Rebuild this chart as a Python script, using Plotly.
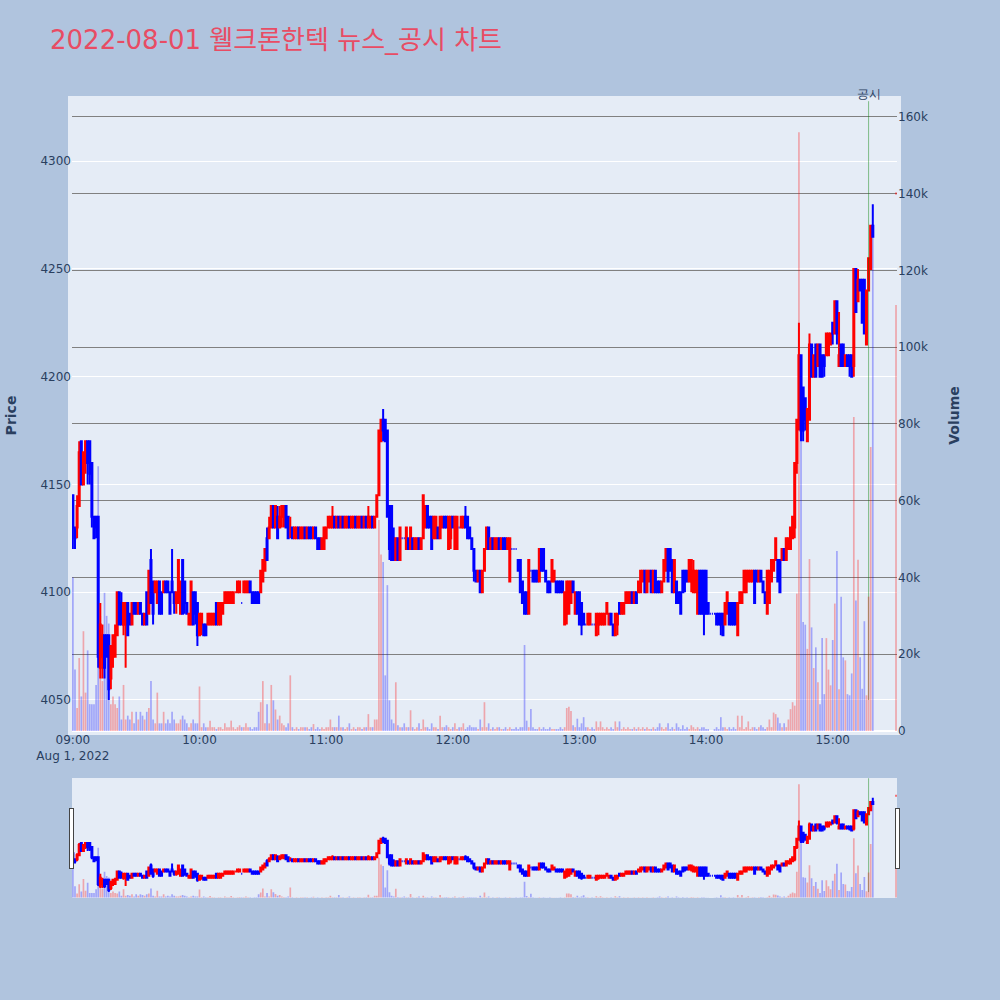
import pandas as pd
import plotly.graph_objects as go
from plotly.subplots import make_subplots

title_text = "2022-08-01 웰크론한텍 뉴스_공시 차트"
news_time = "2022-08-01 15:17:00"
news_label = "공시"

# 1-minute bars 09:00 ~ 15:19, then the 15:30 closing auction
times = list(pd.date_range("2022-08-01 09:00", "2022-08-01 15:19", freq="1min")) + [pd.Timestamp("2022-08-01 15:30")]
x_range = ["2022-08-01 08:59:35", "2022-08-01 15:30:28"]

opens = [
    4145, 4130, 4130, 4140, 4170, 4150, 4160, 4170, 4170, 4160,
    4135, 4135, 4135, 4065, 4070, 4080, 4080, 4080, 4060, 4070,
    4070, 4080, 4100, 4095, 4085, 4085, 4095, 4090, 4085, 4095,
    4095, 4090, 4095, 4090, 4085, 4100, 4090, 4115, 4105, 4100,
    4095, 4105, 4100, 4100, 4105, 4105, 4100, 4105, 4100, 4095,
    4095, 4090, 4115, 4105, 4095, 4085, 4085, 4100, 4100, 4095,
    4080, 4085, 4085, 4085, 4085, 4085, 4085, 4085, 4095, 4085,
    4085, 4090, 4095, 4095, 4095, 4095, 4095, 4100, 4100, 4100,
    4095, 4100, 4100, 4100, 4105, 4100, 4100, 4100, 4100, 4100,
    4105, 4110, 4125, 4125, 4130, 4140, 4130, 4135, 4130, 4135,
    4135, 4140, 4135, 4130, 4130, 4125, 4125, 4130, 4125, 4125,
    4130, 4125, 4130, 4130, 4125, 4130, 4125, 4125, 4120, 4120,
    4125, 4130, 4130, 4130, 4135, 4130, 4135, 4130, 4135, 4130,
    4130, 4135, 4130, 4130, 4135, 4130, 4130, 4135, 4130, 4135,
    4130, 4130, 4135, 4130, 4135, 4145, 4170, 4180, 4180, 4175,
    4140, 4140, 4125, 4115, 4125, 4115, 4125, 4125, 4120, 4125,
    4120, 4125, 4120, 4120, 4125, 4120, 4125, 4130, 4140, 4135,
    4135, 4125, 4125, 4130, 4125, 4130, 4135, 4135, 4120, 4125,
    4135, 4120, 4120, 4130, 4130, 4130, 4135, 4135, 4130, 4125,
    4120, 4110, 4105, 4110, 4100, 4110, 4120, 4130, 4120, 4125,
    4120, 4120, 4125, 4120, 4125, 4125, 4120, 4105, 4120, 4120,
    4120, 4115, 4115, 4105, 4100, 4100, 4090, 4110, 4110, 4110,
    4110, 4105, 4120, 4120, 4110, 4105, 4105, 4105, 4105, 4105,
    4105, 4105, 4105, 4085, 4090, 4090, 4095, 4105, 4090, 4100,
    4100, 4095, 4090, 4085, 4085, 4085, 4085, 4085, 4080, 4085,
    4085, 4085, 4085, 4090, 4085, 4090, 4085, 4080, 4085, 4095,
    4090, 4090, 4095, 4095, 4095, 4100, 4095, 4100, 4100, 4100,
    4105, 4110, 4100, 4105, 4110, 4100, 4110, 4105, 4105, 4100,
    4105, 4110, 4120, 4120, 4115, 4100, 4105, 4100, 4100, 4110,
    4110, 4110, 4105, 4105, 4100, 4100, 4090, 4110, 4110, 4110,
    4110, 4095, 4090, 4090, 4090, 4090, 4090, 4090, 4090, 4085,
    4090, 4095, 4095, 4095, 4095, 4080, 4095, 4095, 4100, 4100,
    4105, 4105, 4105, 4110, 4110, 4105, 4110, 4105, 4100, 4090,
    4095, 4105, 4110, 4115, 4115, 4115, 4115, 4120, 4115, 4120,
    4120, 4125, 4130, 4160, 4180, 4210, 4195, 4190, 4170, 4180,
    4215, 4200, 4215, 4205, 4215, 4210, 4210, 4210, 4210, 4215,
    4225, 4220, 4235, 4205, 4215, 4215, 4205, 4210, 4210, 4210,
    4205, 4250, 4235, 4245, 4245, 4245, 4215, 4240, 4250, 4270,
    4285,
]

highs = [
    4145, 4130, 4145, 4170, 4170, 4165, 4170, 4170, 4170, 4160,
    4135, 4135, 4135, 4095, 4085, 4080, 4080, 4080, 4075, 4080,
    4085, 4100, 4100, 4100, 4095, 4095, 4095, 4090, 4095, 4095,
    4095, 4095, 4095, 4090, 4090, 4100, 4110, 4120, 4105, 4105,
    4105, 4105, 4100, 4105, 4105, 4105, 4100, 4120, 4100, 4100,
    4115, 4105, 4115, 4105, 4095, 4090, 4105, 4100, 4100, 4095,
    4090, 4090, 4085, 4085, 4090, 4090, 4090, 4090, 4095, 4095,
    4095, 4095, 4100, 4100, 4100, 4100, 4100, 4100, 4105, 4105,
    4095, 4105, 4105, 4105, 4105, 4100, 4100, 4100, 4100, 4110,
    4115, 4120, 4130, 4135, 4140, 4140, 4140, 4140, 4140, 4140,
    4140, 4140, 4135, 4135, 4130, 4130, 4130, 4130, 4130, 4130,
    4130, 4130, 4130, 4130, 4130, 4130, 4125, 4125, 4125, 4130,
    4130, 4135, 4135, 4140, 4135, 4135, 4135, 4135, 4135, 4135,
    4135, 4135, 4135, 4135, 4135, 4135, 4135, 4135, 4135, 4135,
    4140, 4135, 4135, 4135, 4145, 4175, 4180, 4185, 4180, 4175,
    4140, 4140, 4130, 4125, 4125, 4130, 4125, 4125, 4130, 4125,
    4130, 4125, 4125, 4125, 4125, 4125, 4145, 4140, 4140, 4135,
    4135, 4135, 4135, 4130, 4135, 4135, 4135, 4135, 4135, 4135,
    4135, 4135, 4135, 4130, 4135, 4135, 4140, 4135, 4130, 4125,
    4120, 4110, 4110, 4110, 4110, 4120, 4130, 4130, 4125, 4125,
    4125, 4125, 4125, 4125, 4125, 4125, 4125, 4125, 4120, 4120,
    4120, 4115, 4115, 4105, 4100, 4100, 4115, 4110, 4110, 4110,
    4110, 4120, 4120, 4120, 4110, 4105, 4105, 4115, 4110, 4105,
    4105, 4105, 4105, 4100, 4105, 4105, 4105, 4105, 4100, 4100,
    4100, 4095, 4090, 4085, 4090, 4090, 4085, 4085, 4090, 4090,
    4090, 4090, 4090, 4095, 4090, 4090, 4085, 4090, 4090, 4095,
    4095, 4095, 4100, 4100, 4100, 4100, 4100, 4100, 4105, 4110,
    4110, 4110, 4110, 4110, 4110, 4110, 4110, 4105, 4105, 4105,
    4115, 4120, 4120, 4120, 4115, 4115, 4105, 4100, 4100, 4110,
    4110, 4110, 4115, 4115, 4115, 4110, 4110, 4110, 4110, 4110,
    4110, 4095, 4090, 4090, 4090, 4090, 4090, 4090, 4090, 4095,
    4100, 4095, 4095, 4095, 4095, 4095, 4100, 4100, 4110, 4110,
    4110, 4110, 4110, 4110, 4110, 4110, 4110, 4105, 4100, 4110,
    4110, 4115, 4115, 4125, 4115, 4115, 4120, 4120, 4125, 4125,
    4130, 4135, 4160, 4180, 4225, 4210, 4195, 4190, 4185, 4220,
    4215, 4210, 4215, 4215, 4215, 4210, 4210, 4220, 4220, 4220,
    4225, 4235, 4235, 4230, 4215, 4215, 4210, 4210, 4210, 4210,
    4250, 4250, 4250, 4245, 4245, 4245, 4240, 4255, 4270, 4280,
    4285,
]

lows = [
    4120, 4120, 4125, 4140, 4150, 4150, 4155, 4150, 4150, 4130,
    4125, 4125, 4065, 4060, 4060, 4060, 4070, 4050, 4055, 4065,
    4070, 4080, 4085, 4085, 4080, 4065, 4080, 4085, 4085, 4090,
    4090, 4090, 4090, 4085, 4085, 4085, 4090, 4095, 4085, 4100,
    4095, 4090, 4090, 4100, 4100, 4100, 4090, 4100, 4090, 4090,
    4095, 4090, 4090, 4090, 4090, 4085, 4085, 4085, 4085, 4075,
    4080, 4080, 4080, 4080, 4085, 4085, 4085, 4085, 4085, 4085,
    4085, 4090, 4095, 4095, 4095, 4095, 4095, 4100, 4100, 4100,
    4095, 4100, 4100, 4100, 4100, 4095, 4095, 4095, 4095, 4100,
    4105, 4110, 4115, 4125, 4130, 4130, 4130, 4125, 4130, 4130,
    4130, 4130, 4125, 4125, 4125, 4125, 4125, 4125, 4125, 4125,
    4125, 4125, 4125, 4125, 4125, 4125, 4120, 4120, 4120, 4120,
    4125, 4130, 4130, 4130, 4130, 4130, 4130, 4130, 4130, 4130,
    4130, 4130, 4130, 4130, 4130, 4130, 4130, 4130, 4130, 4130,
    4130, 4130, 4130, 4130, 4135, 4145, 4170, 4170, 4170, 4135,
    4115, 4115, 4115, 4115, 4115, 4115, 4125, 4125, 4120, 4120,
    4120, 4120, 4120, 4120, 4120, 4120, 4125, 4130, 4130, 4130,
    4120, 4125, 4125, 4125, 4125, 4130, 4130, 4130, 4120, 4120,
    4130, 4120, 4120, 4130, 4130, 4130, 4130, 4125, 4125, 4120,
    4105, 4105, 4105, 4100, 4100, 4110, 4120, 4120, 4120, 4120,
    4120, 4120, 4120, 4120, 4120, 4120, 4120, 4105, 4120, 4120,
    4120, 4110, 4100, 4095, 4090, 4090, 4090, 4110, 4105, 4105,
    4105, 4105, 4110, 4110, 4105, 4100, 4100, 4105, 4105, 4100,
    4100, 4100, 4100, 4085, 4085, 4090, 4095, 4100, 4090, 4090,
    4085, 4080, 4085, 4085, 4085, 4085, 4085, 4085, 4080, 4080,
    4085, 4085, 4085, 4090, 4085, 4085, 4080, 4080, 4080, 4090,
    4090, 4090, 4095, 4095, 4095, 4095, 4095, 4095, 4100, 4100,
    4105, 4100, 4100, 4105, 4100, 4100, 4100, 4100, 4100, 4100,
    4105, 4110, 4105, 4110, 4100, 4100, 4095, 4095, 4090, 4100,
    4100, 4105, 4105, 4100, 4100, 4100, 4090, 4090, 4090, 4080,
    4090, 4090, 4090, 4090, 4090, 4085, 4085, 4080, 4080, 4085,
    4090, 4085, 4085, 4085, 4085, 4080, 4095, 4095, 4100, 4100,
    4105, 4105, 4105, 4095, 4105, 4105, 4105, 4100, 4095, 4090,
    4095, 4105, 4110, 4115, 4105, 4100, 4115, 4115, 4115, 4120,
    4120, 4125, 4125, 4155, 4175, 4170, 4170, 4175, 4170, 4180,
    4200, 4200, 4200, 4205, 4200, 4200, 4200, 4210, 4210, 4215,
    4215, 4220, 4215, 4205, 4205, 4205, 4205, 4205, 4200, 4200,
    4200, 4230, 4235, 4240, 4225, 4220, 4215, 4240, 4250, 4265,
    4285,
]

closes = [
    4130, 4125, 4140, 4165, 4150, 4165, 4170, 4160, 4155, 4135,
    4125, 4130, 4070, 4085, 4080, 4065, 4070, 4055, 4075, 4080,
    4080, 4100, 4085, 4085, 4095, 4095, 4080, 4085, 4095, 4090,
    4090, 4095, 4090, 4085, 4090, 4085, 4110, 4095, 4090, 4105,
    4105, 4090, 4090, 4105, 4100, 4100, 4090, 4100, 4095, 4100,
    4115, 4105, 4090, 4095, 4090, 4090, 4105, 4085, 4090, 4080,
    4090, 4090, 4080, 4080, 4090, 4090, 4090, 4090, 4085, 4095,
    4095, 4095, 4100, 4100, 4100, 4100, 4100, 4100, 4105, 4105,
    4095, 4105, 4105, 4105, 4100, 4095, 4095, 4095, 4095, 4110,
    4115, 4120, 4115, 4130, 4140, 4130, 4140, 4125, 4135, 4140,
    4140, 4130, 4125, 4130, 4125, 4130, 4130, 4125, 4130, 4130,
    4125, 4130, 4125, 4125, 4130, 4125, 4120, 4120, 4125, 4130,
    4130, 4135, 4135, 4135, 4130, 4135, 4130, 4135, 4130, 4135,
    4135, 4130, 4135, 4135, 4130, 4135, 4135, 4130, 4135, 4130,
    4135, 4135, 4130, 4135, 4145, 4175, 4180, 4175, 4170, 4135,
    4120, 4115, 4115, 4125, 4115, 4130, 4125, 4125, 4130, 4120,
    4130, 4120, 4125, 4125, 4120, 4125, 4145, 4140, 4130, 4130,
    4120, 4135, 4135, 4125, 4135, 4135, 4130, 4130, 4135, 4135,
    4130, 4135, 4135, 4130, 4135, 4135, 4130, 4125, 4125, 4120,
    4110, 4105, 4110, 4100, 4110, 4120, 4130, 4120, 4125, 4120,
    4125, 4125, 4120, 4125, 4120, 4120, 4125, 4125, 4120, 4120,
    4120, 4110, 4100, 4095, 4090, 4090, 4115, 4110, 4105, 4105,
    4105, 4120, 4110, 4110, 4105, 4100, 4100, 4115, 4110, 4100,
    4100, 4100, 4100, 4100, 4105, 4105, 4105, 4100, 4100, 4090,
    4085, 4085, 4085, 4085, 4090, 4090, 4085, 4085, 4090, 4090,
    4090, 4090, 4090, 4095, 4090, 4085, 4080, 4090, 4090, 4090,
    4095, 4095, 4100, 4100, 4100, 4095, 4100, 4095, 4105, 4110,
    4110, 4100, 4110, 4110, 4100, 4110, 4100, 4100, 4100, 4105,
    4115, 4120, 4105, 4110, 4100, 4115, 4095, 4095, 4090, 4100,
    4105, 4105, 4115, 4115, 4110, 4110, 4110, 4090, 4090, 4090,
    4090, 4090, 4090, 4090, 4090, 4085, 4085, 4085, 4080, 4095,
    4100, 4085, 4085, 4085, 4085, 4095, 4100, 4100, 4110, 4110,
    4110, 4110, 4110, 4095, 4105, 4110, 4105, 4100, 4095, 4110,
    4110, 4115, 4115, 4125, 4105, 4100, 4120, 4115, 4125, 4125,
    4130, 4135, 4160, 4180, 4210, 4175, 4175, 4180, 4185, 4215,
    4200, 4210, 4200, 4215, 4200, 4200, 4205, 4220, 4220, 4220,
    4220, 4235, 4220, 4210, 4205, 4205, 4210, 4205, 4205, 4200,
    4250, 4230, 4245, 4240, 4225, 4220, 4240, 4255, 4270, 4265,
    4285,
]

# volume in thousands of shares
volumes_k = [
    40, 16, 6, 19, 9, 26, 10, 21, 7, 7,
    7, 12, 69, 30, 13, 36, 30, 28, 7, 9,
    7, 6, 9, 3, 12, 3, 4, 3, 5, 2,
    5, 3, 5, 4, 3, 5, 6, 13, 3, 2,
    10, 2, 2, 5, 2, 3, 2, 5, 3, 2,
    2, 3, 4, 3, 2, 1, 2, 3, 2, 2,
    11.6, 1, 2, 1, 1, 2.7, 1, 1, 0.5, 1,
    1, 0.5, 2, 1, 1, 2.7, 1, 0.5, 1, 1.5,
    1, 1, 2, 1, 1, 0.5, 1, 1, 5, 7.5,
    13, 2, 7, 2, 12, 8, 5.6, 3, 4, 2,
    1.5, 1, 2, 14.5, 1, 0.5, 1, 0.5, 1, 1,
    1, 1, 0.5, 1, 1.8, 0.5, 1, 0.5, 1, 0.5,
    1, 1, 3, 1, 1, 1, 4, 1, 1, 0.5,
    1, 2, 0.5, 1, 0.5, 1, 1, 0.5, 1, 1,
    4.4, 1, 1, 3, 3, 55, 46, 44, 14.5, 38,
    8, 3, 2, 12.7, 1.5, 1, 1, 2, 1, 1,
    5.4, 1, 0.5, 1, 2, 0.5, 3, 1, 1, 0.5,
    2, 1, 1, 0.5, 4, 1, 1, 1.5, 1, 0.5,
    1, 2, 0.5, 1, 1, 2, 0.5, 1, 1.5, 1,
    1, 1, 0.5, 3, 1, 7.5, 1, 2, 0.5, 1,
    0.5, 1, 1, 0.5, 0.5, 1, 0.5, 1, 0.5, 0.5,
    1, 0.5, 1, 1, 22.4, 2.7, 1, 5.7, 1, 0.5,
    0.5, 1, 0.5, 1, 0.5, 0.5, 1, 0.5, 0.5, 0.5,
    0.5, 1, 0.5, 1, 6, 6.3, 5.2, 1.5, 1, 3.2,
    1, 2, 3.6, 1, 1, 0.5, 1, 0.5, 2.5, 1,
    2.5, 1, 0.5, 1, 0.5, 1, 0.5, 2.5, 1, 2.5,
    0.5, 1, 0.5, 1, 0.5, 0.5, 1, 0.5, 1, 0.5,
    1, 0.5, 1, 0.5, 0.5, 1, 0.5, 1, 2, 1,
    0.5, 1, 2, 0.5, 1, 0.5, 2, 1, 0.5, 1.5,
    0.5, 1, 0.5, 1.5, 1, 0.5, 1, 0.5, 1, 1,
    0.5, 0.5, 0, 0, 0.5, 1, 0.5, 3.6, 1, 1,
    0.5, 1, 0.5, 1, 0.5, 4, 1, 4, 0.5, 1,
    2.5, 0.5, 1, 1, 0.5, 1, 1.5, 1, 0.5, 1,
    3, 1, 4.8, 4.4, 3.5, 2, 1, 2, 1, 3,
    5.7, 7.5, 6.6, 35.8, 156, 85, 28.4, 27.7, 21.4, 44.8,
    27, 16.4, 21.8, 12.7, 7, 24.2, 9.6, 24.2, 16, 11.9,
    23.7, 33.2, 46.9, 10.9, 35, 19.2, 18.4, 9.6, 9.3, 15,
    81.8, 34, 44.6, 19.2, 11, 28.6, 9.3, 35, 74, 132,
    111,
]
volumes = [v * 1000 for v in volumes_k]

# volume colour follows the candle direction
vol_colors = []
prev_up = True
for i in range(len(closes)):
    if closes[i] > opens[i]:
        up = True
    elif closes[i] < opens[i]:
        up = False
    elif i > 0 and closes[i] != closes[i - 1]:
        up = closes[i] > closes[i - 1]
    else:
        up = prev_up
    prev_up = up
    vol_colors.append('rgba(255,0,0,0.3)' if up else 'rgba(0,0,255,0.3)')

fig = make_subplots(specs=[[{"secondary_y": True}]])

fig.add_trace(go.Candlestick(
    x=times, open=opens, high=highs, low=lows, close=closes,
    increasing=dict(line=dict(color='red'), fillcolor='red'),
    decreasing=dict(line=dict(color='blue'), fillcolor='blue'),
    name='Price'
), secondary_y=False)

fig.add_trace(go.Bar(
    x=times, y=volumes,
    marker=dict(color=vol_colors, line=dict(width=0)),
    name='Volume'
), secondary_y=True)

# news / disclosure marker
fig.add_trace(go.Scatter(
    x=[news_time, news_time],
    y=[min(lows), max(highs) * 1.01],
    mode='lines+text',
    text=['', news_label],
    textposition='top center',
    textfont=dict(size=12, color='#2a3f5f'),
    line=dict(color='rgba(0,128,0,0.45)', width=1),
    cliponaxis=False,
    name=news_label
), secondary_y=False)

# plot background runs a few px past the axes
fig.add_shape(type='rect', xref='paper', yref='paper',
              x0=-4 / 825, x1=1 + 4 / 825, y0=-4 / 629, y1=1 + 4 / 629,
              fillcolor='#E5ECF6', line=dict(width=0), layer='below')

fig.update_layout(
    title=dict(text=title_text, x=0.05, xanchor='left', y=0.96, yanchor='middle',
               font=dict(size=26, color='#E84C64', family='DejaVu Sans, Noto Sans CJK KR')),
    paper_bgcolor='lightsteelblue',
    plot_bgcolor='#E5ECF6',
    font=dict(family='DejaVu Sans, Verdana, sans-serif', color='#2a3f5f', size=12),
    width=1000,
    height=1000,
    margin=dict(l=72, r=103, t=100, b=103),
    showlegend=False,
    bargap=0.2,
)

fig.update_xaxes(
    domain=[0, 1],
    range=x_range,
    showgrid=False,
    dtick=3600000,
    rangeslider=dict(visible=True, thickness=0.15, bgcolor='#E5ECF6', range=x_range),
)
fig.update_yaxes(title=dict(text='<b>Price</b>', standoff=20), range=[4035.6, 4328.4], dtick=50,
                 gridcolor='white', automargin=False, secondary_y=False)
fig.update_yaxes(title=dict(text='<b>Volume</b>', standoff=22), range=[0, 164400], dtick=20000,
                 gridcolor='grey', automargin=False, secondary_y=True)

fig.write_html("out.html", config={'displayModeBar': False},
               post_script="document.body.style.margin='0px';")
